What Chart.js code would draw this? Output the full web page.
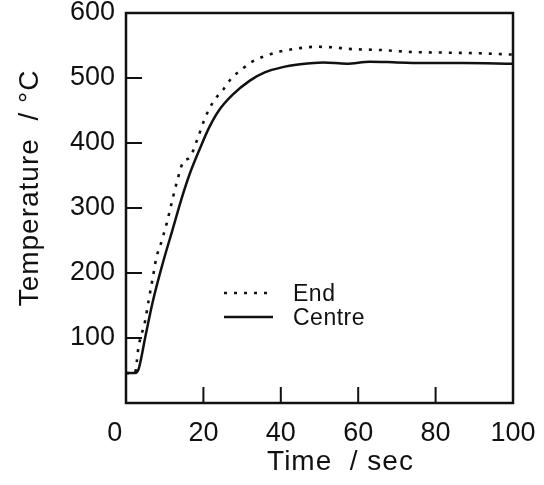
<!DOCTYPE html>
<html>
<head>
<meta charset="utf-8">
<script src="https://cdn.jsdelivr.net/npm/chart.js@4.4.1/dist/chart.umd.min.js"></script>
<style>
  html, body { margin: 0; padding: 0; background: #fff; }
</style>
</head>
<body>
<canvas id="c" width="544" height="485"></canvas>
<script>
// tick labels
const xTicks = [0, 20, 40, 60, 80, 100];
const yTicks = [100, 200, 300, 400, 500, 600];

// Centre (solid line)
const centreTime = [0, 2.4, 3.3, 5, 7, 9.5, 12, 14.5, 16.5, 19, 21.5, 24, 27.5, 32, 36, 40, 45, 51, 57, 63, 70, 78, 87, 100];
const centreTemp = [46, 46, 53, 102, 158, 215, 266, 317, 353, 390, 424, 450, 474, 496, 509, 516, 521, 524, 522, 525, 524, 523, 523, 522];

// End (dotted line)
const endTime = [0, 2.3, 2.8, 3.2, 4.0, 4.9, 5.8, 6.9, 7.9, 8.8, 10.5, 11.8, 13.1, 14.8, 16.5, 18.4, 20.4, 22.6, 25.1, 27.3, 29.9, 32, 36, 40, 45, 49, 54, 57, 66, 74, 83, 91.5, 100];
const endTemp = [46, 46, 64, 85, 105, 125, 156, 192, 225, 241, 276, 308, 339, 371, 378, 405, 438, 464, 482, 500, 513, 523, 534, 541, 546, 548, 547, 545, 543, 540, 539, 538, 536];

const seriesLabels = ['End', 'Centre'];
const xTitle = 'Time  / sec';
const yTitle = 'Temperature  / °C';

const INK = '#111';
const FONT = '"Liberation Sans", Arial, Helvetica, sans-serif';

function points(ts, vs) {
    return ts.map((t, i) => ({ x: t, y: vs[i] }));
}

// box round the plot, inward ticks, axis titles and the legend
const framePlugin = {
    id: 'frame',
    afterDraw(chart) {
        const { ctx, chartArea: a, scales: { x, y } } = chart;
        ctx.save();
        ctx.strokeStyle = INK;
        ctx.lineWidth = 2.5;
        ctx.strokeRect(a.left, a.top, a.right - a.left, a.bottom - a.top);

        ctx.lineWidth = 2;
        ctx.beginPath();
        x.ticks.forEach(t => {
            if (t.value <= x.min || t.value >= x.max) return;
            const px = x.getPixelForValue(t.value);
            ctx.moveTo(px, a.bottom);
            ctx.lineTo(px, a.bottom - 16);
        });
        y.ticks.forEach(t => {
            if (t.value <= y.min || t.value >= y.max) return;
            const py = y.getPixelForValue(t.value);
            ctx.moveTo(a.left, py);
            ctx.lineTo(a.left + 16, py);
        });
        ctx.stroke();

        // axis titles
        ctx.fillStyle = INK;
        ctx.font = '28px ' + FONT;
        ctx.letterSpacing = '1px';
        ctx.textAlign = 'center';
        ctx.textBaseline = 'alphabetic';
        ctx.fillText(xTitle, (a.left + a.right) / 2 + 21, a.bottom + 67);

        ctx.save();
        ctx.translate(a.left - 88, (a.top + a.bottom) / 2 - 20);
        ctx.rotate(-Math.PI / 2);
        ctx.fillText(yTitle, 0, 0);
        ctx.restore();

        // legend
        ctx.font = '23px ' + FONT;
        ctx.letterSpacing = '0.5px';
        ctx.textAlign = 'left';
        chart.data.datasets.forEach((ds, i) => {
            const ly = a.top + 280 + i * 24;
            ctx.lineWidth = ds.borderWidth;
            ctx.setLineDash(ds.borderDash || []);
            ctx.beginPath();
            ctx.moveTo(a.left + 98, ly);
            ctx.lineTo(a.left + 147, ly);
            ctx.stroke();
            ctx.setLineDash([]);
            ctx.fillText(ds.label, a.left + 167, ly + 8);
        });
        ctx.restore();
    }
};

new Chart(document.getElementById('c'), {
    type: 'line',
    data: {
        datasets: [
            {
                label: seriesLabels[0],
                data: points(endTime, endTemp),
                borderColor: INK,
                borderWidth: 2.6,
                borderDash: [3, 7],
                pointRadius: 0,
                cubicInterpolationMode: 'monotone',
                fill: false
            },
            {
                label: seriesLabels[1],
                data: points(centreTime, centreTemp),
                borderColor: INK,
                borderWidth: 2.5,
                pointRadius: 0,
                cubicInterpolationMode: 'monotone',
                fill: false
            }
        ]
    },
    options: {
        responsive: false,
        devicePixelRatio: 1,
        animation: false,
        layout: { padding: { top: 13, right: 31, left: 0, bottom: 0 } },
        plugins: {
            legend: { display: false },
            tooltip: { enabled: false }
        },
        scales: {
            x: {
                type: 'linear',
                min: 0,
                max: 100,
                afterBuildTicks: s => { s.ticks = xTicks.map(v => ({ value: v })); },
                afterFit: s => {
                    s.height = 82;
                    s.paddingLeft = 0;
                    s.paddingRight = 0;
                },
                grid: { display: false, drawTicks: false },
                border: { display: false },
                ticks: {
                    autoSkip: false,
                    maxRotation: 0,
                    padding: 14,
                    color: INK,
                    font: { family: FONT, size: 27 },
                    callback: v => (v === 0 ? '0   ' : String(v))
                }
            },
            y: {
                type: 'linear',
                min: 0,
                max: 600,
                afterBuildTicks: s => { s.ticks = yTicks.map(v => ({ value: v })); },
                afterFit: s => {
                    s.width = 126;
                    s.paddingTop = 0;
                    s.paddingBottom = 0;
                },
                grid: { display: false, drawTicks: false },
                border: { display: false },
                ticks: {
                    autoSkip: false,
                    padding: 11,
                    color: INK,
                    font: { family: FONT, size: 27 }
                }
            }
        }
    },
    plugins: [framePlugin]
});
</script>
</body>
</html>
